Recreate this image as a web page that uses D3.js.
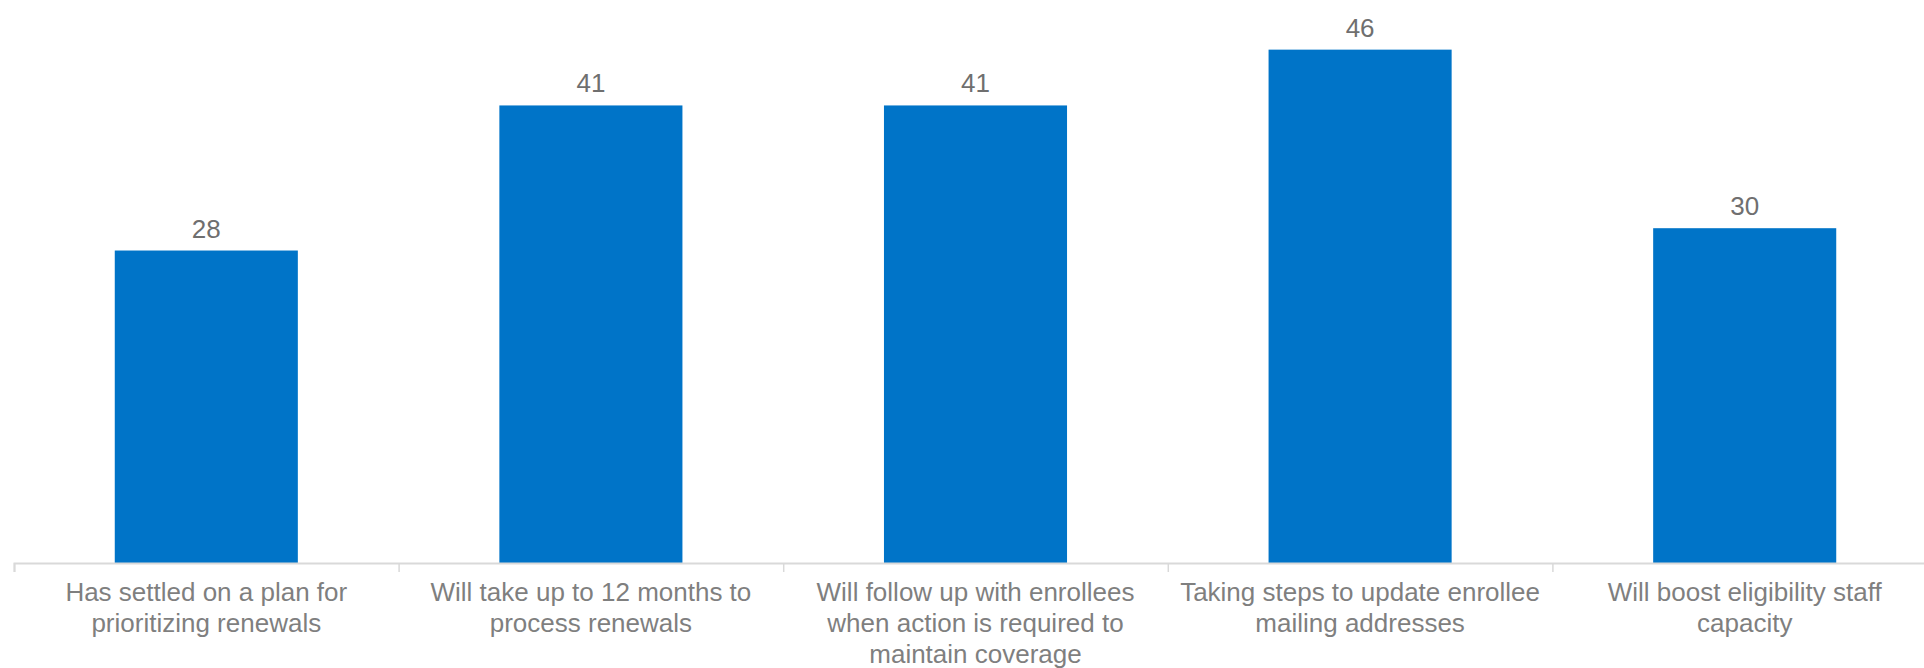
<!DOCTYPE html>
<html>
<head>
<meta charset="utf-8">
<script src="https://cdn.jsdelivr.net/npm/d3@7"></script>
<style>
  html, body { margin: 0; padding: 0; background: #fff; overflow: hidden; }
  svg { display: block; }
</style>
</head>
<body>
<svg id="chart" width="1924" height="668"></svg>
<script>
const categories = [
  ["Has settled on a plan for", "prioritizing renewals"],
  ["Will take up to 12 months to", "process renewals"],
  ["Will follow up with enrollees", "when action is required to", "maintain coverage"],
  ["Taking steps to update enrollee", "mailing addresses"],
  ["Will boost eligibility staff", "capacity"]
];
const values = [28, 41, 41, 46, 30];
const yMax = 50;

const svg = d3.select("#chart");
const baseY = 563;
const keys = categories.map((c, i) => i);

const x = d3.scaleBand().domain(keys).range([14, 1937]).paddingInner(0.524).paddingOuter(0.262);
const y = d3.scaleLinear().domain([0, yMax]).range([baseY, 5]);

// bars
svg.selectAll("rect.bar").data(values).enter().append("rect")
  .attr("class", "bar")
  .attr("x", (d, i) => x(i))
  .attr("y", d => y(d))
  .attr("width", x.bandwidth())
  .attr("height", d => y(0) - y(d))
  .attr("fill", "#0074C8");

// axis
const xEdge = d3.scaleLinear().domain([0, categories.length]).range([14, 1937]);
const axisG = svg.append("g").attr("transform", `translate(0,${baseY})`);
axisG.call(d3.axisBottom(xEdge).tickValues(d3.range(0, categories.length + 1)).tickSize(9).tickFormat(""));
axisG.select(".domain").attr("stroke", "#d9d9d9").attr("stroke-width", 2);
axisG.selectAll(".tick line").attr("stroke", "#d9d9d9").attr("stroke-width", 1.5);

// value labels
svg.selectAll("text.val").data(values).enter().append("text")
  .attr("class", "val")
  .attr("x", (d, i) => x(i) + x.bandwidth() / 2)
  .attr("y", d => y(d) - 13)
  .attr("text-anchor", "middle")
  .attr("font-family", "Liberation Sans, Arial, sans-serif")
  .attr("font-size", 26)
  .attr("fill", "#6f6f6f")
  .text(d => d);

// category labels
const lab = svg.selectAll("text.cat").data(categories).enter().append("text")
  .attr("class", "cat")
  .attr("text-anchor", "middle")
  .attr("font-family", "Liberation Sans, Arial, sans-serif")
  .attr("font-size", 26)
  .attr("fill", "#7f7f7f");
lab.each(function(lines, i) {
  const t = d3.select(this);
  lines.forEach((ln, j) => {
    t.append("tspan")
      .attr("x", x(i) + x.bandwidth() / 2)
      .attr("y", 601 + j * 31)
      .text(ln);
  });
});
</script>
</body>
</html>
